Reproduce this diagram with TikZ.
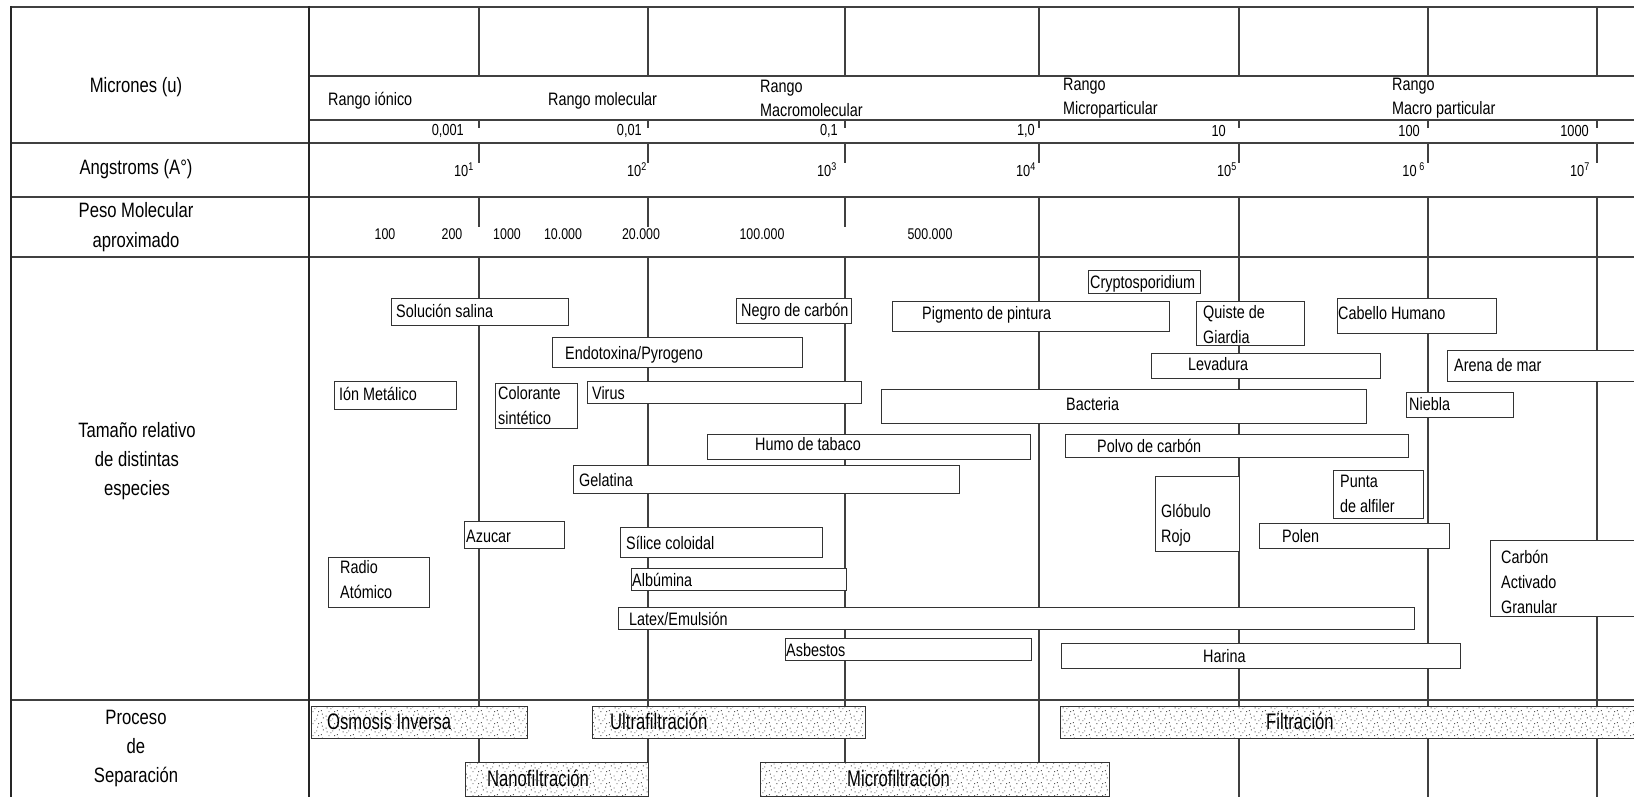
\documentclass[tikz,border=0pt]{standalone}
\usepackage{fontspec}
\setmainfont{Liberation Sans}[FakeStretch=0.8]
\newfontfamily\procfont{Liberation Sans}[FakeStretch=0.74]
\usetikzlibrary{patterns}

% stipple for the separation processes
\pgfdeclarepatternformonly{stipple}{\pgfqpoint{0pt}{0pt}}{\pgfqpoint{16pt}{12pt}}{\pgfqpoint{16pt}{12pt}}{%
  \pgfpathrectangle{\pgfqpoint{1pt}{2pt}}{\pgfqpoint{1pt}{1pt}}%
  \pgfpathrectangle{\pgfqpoint{6pt}{9pt}}{\pgfqpoint{1pt}{1pt}}%
  \pgfpathrectangle{\pgfqpoint{11pt}{4pt}}{\pgfqpoint{1pt}{1pt}}%
  \pgfpathrectangle{\pgfqpoint{14pt}{10pt}}{\pgfqpoint{1pt}{1pt}}%
  \pgfpathrectangle{\pgfqpoint{3pt}{7pt}}{\pgfqpoint{1pt}{1pt}}%
  \pgfpathrectangle{\pgfqpoint{9pt}{1pt}}{\pgfqpoint{1pt}{1pt}}%
  \pgfpathrectangle{\pgfqpoint{13pt}{6pt}}{\pgfqpoint{1pt}{1pt}}%
  \pgfpathrectangle{\pgfqpoint{7pt}{5pt}}{\pgfqpoint{1pt}{1pt}}%
  \pgfpathrectangle{\pgfqpoint{2pt}{11pt}}{\pgfqpoint{1pt}{1pt}}%
  \pgfpathrectangle{\pgfqpoint{15pt}{1pt}}{\pgfqpoint{1pt}{1pt}}%
  \pgfusepath{fill}}

\tikzset{
  rejilla/.style={line width=1.1pt, black!75},
  borde/.style={line width=1.8pt, black!85},
  caja/.style={draw=black!80, line width=1pt, fill=white},
  proc/.style={draw=black!80, line width=1pt, preaction={fill=white}, pattern=stipple, pattern color=black!65},
  etiq/.style={anchor=west, inner sep=0pt, font=\fontsize{18}{25}\selectfont, text height=15pt, text depth=2pt},
  etiqs/.style={anchor=west, inner sep=0pt, align=left, font=\fontsize{18}{25}\selectfont},
  titulo/.style={inner sep=0pt, align=center, font=\fontsize{20.8}{29}\selectfont},
  rango/.style={anchor=west, inner sep=0pt, align=left, font=\fontsize{18}{24}\selectfont},
  escala/.style={anchor=east, inner sep=0pt, font=\fontsize{16}{18}\selectfont},
  peso/.style={inner sep=0pt, font=\fontsize{15.5}{18}\selectfont},
  proceso/.style={anchor=west, inner sep=0pt, font=\procfont\fontsize{22.5}{26}\selectfont, text height=17pt, text depth=2pt}
}

\begin{document}
\begin{tikzpicture}[x=1pt,y=-1pt]
    % Fix the frame
    \useasboundingbox (0,0) rectangle (1634,797);
    \clip (0,0) rectangle (1634,797);
    % Draw the rows
    \draw[rejilla] (11,7) -- (1640,7);
    \draw[rejilla] (309,76) -- (1640,76);
    \draw[rejilla] (309,120) -- (1640,120);
    \draw[rejilla] (11,143) -- (1640,143);
    \draw[rejilla] (11,197) -- (1640,197);
    \draw[rejilla] (11,257) -- (1640,257);
    \draw[rejilla] (11,700) -- (1640,700);
    % Draw the columns and the ticks
    \draw[rejilla] (479,7) -- (479,76) (479,120) -- (479,128) (479,143) -- (479,163) (479,197) -- (479,227) (479,257) -- (479,800);
    \draw[rejilla] (648,7) -- (648,76) (648,120) -- (648,128) (648,143) -- (648,163) (648,197) -- (648,227) (648,257) -- (648,800);
    \draw[rejilla] (845,7) -- (845,76) (845,120) -- (845,128) (845,143) -- (845,163) (845,197) -- (845,227) (845,257) -- (845,800);
    \draw[rejilla] (1039,7) -- (1039,76) (1039,120) -- (1039,128) (1039,143) -- (1039,163) (1039,197) -- (1039,800);
    \draw[rejilla] (1239,7) -- (1239,76) (1239,120) -- (1239,128) (1239,143) -- (1239,163) (1239,197) -- (1239,800);
    \draw[rejilla] (1428,7) -- (1428,76) (1428,120) -- (1428,128) (1428,143) -- (1428,163) (1428,197) -- (1428,800);
    \draw[rejilla] (1597,7) -- (1597,76) (1597,120) -- (1597,128) (1597,143) -- (1597,163) (1597,197) -- (1597,800);
    % Draw the left borders
    \draw[borde] (11,6) -- (11,800);
    \draw[borde] (309,6) -- (309,800);

    % Row titles
    \node[titulo] (micrones) at (136,87) {Micrones (u)};
    \node[titulo] (angstroms) at (136,169) {Angstroms (A°)};
    \node[titulo] (pesomol) at (136,227) {Peso Molecular\\[1pt]aproximado};
    \node[titulo] (tamano) at (137,461) {Tamaño relativo\\de distintas\\especies};
    \node[titulo] (procsep) at (136,748) {Proceso\\de\\Separación};

    % Ranges
    \node[rango] (ionico) at (328,101) {Rango iónico};
    \node[rango] (molecular) at (548,101) {Rango molecular};
    \node[rango] (macromol) at (760,98) {Rango\\Macromolecular};
    \node[rango] (micropart) at (1063,98) {Rango\\Microparticular};
    \node[rango] (macropart) at (1392,98) {Rango\\Macro particular};

    % Micron scale
    \node[escala] (m1) at (464,131) {0,001};
    \node[escala] (m2) at (642,131) {0,01};
    \node[escala] (m3) at (838,131) {0,1};
    \node[escala] (m4) at (1035,131) {1,0};
    \node[escala] (m5) at (1226,131) {10};
    \node[escala] (m6) at (1420,131) {100};
    \node[escala] (m7) at (1589,131) {1000};
    % Angstrom scale
    \node[escala] (a1) at (474,170) {10\textsuperscript{1}};
    \node[escala] (a2) at (647,170) {10\textsuperscript{2}};
    \node[escala] (a3) at (837,170) {10\textsuperscript{3}};
    \node[escala] (a4) at (1036,170) {10\textsuperscript{4}};
    \node[escala] (a5) at (1237,170) {10\textsuperscript{5}};
    \node[escala] (a6) at (1425,170) {10\,\textsuperscript{6}};
    \node[escala] (a7) at (1590,170) {10\textsuperscript{7}};
    % Molecular weight
    \node[peso] (p1) at (385,234) {100};
    \node[peso] (p2) at (452,234) {200};
    \node[peso] (p3) at (507,234) {1000};
    \node[peso] (p4) at (563,234) {10.000};
    \node[peso] (p5) at (641,234) {20.000};
    \node[peso] (p6) at (762,234) {100.000};
    \node[peso] (p7) at (930,234) {500.000};

    % Draw the species
    \draw[caja] (1088,270) rectangle (1200,293);
    \node[etiq] (crypto) at (1090,281.5) {Cryptosporidium};
    \draw[caja] (391,298) rectangle (568,325);
    \node[etiq] (salina) at (396,311) {Solución salina};
    \draw[caja] (736,298) rectangle (851,323);
    \node[etiq] (negro) at (741,310) {Negro de carbón};
    \draw[caja] (892,301) rectangle (1169,331);
    \node[etiq] (pigmento) at (922,313) {Pigmento de pintura};
    \draw[caja] (1196,301) rectangle (1304,345);
    \node[etiqs] (quiste) at (1203,325) {Quiste de\\Giardia};
    \draw[caja] (1337,298) rectangle (1496,333);
    \node[etiq] (cabello) at (1338,313) {Cabello Humano};
    \draw[caja] (552,337) rectangle (802,367);
    \node[etiq] (endotox) at (565,353) {Endotoxina/Pyrogeno};
    \draw[caja] (1151,353) rectangle (1380,378);
    \node[etiq] (levadura) at (1188,364) {Levadura};
    \draw[caja] (1447,350) rectangle (1640,381);
    \node[etiq] (arena) at (1454,365) {Arena de mar};
    \draw[caja] (334,381) rectangle (456,409);
    \node[etiq] (ion) at (339,394) {Ión Metálico};
    \draw[caja] (495,383) rectangle (577,428);
    \node[etiqs] (colorante) at (498,406) {Colorante\\sintético};
    \draw[caja] (587,381) rectangle (861,403);
    \node[etiq] (virus) at (592,393) {Virus};
    \draw[caja] (881,389) rectangle (1366,423);
    \node[etiq] (bacteria) at (1066,404) {Bacteria};
    \draw[caja] (1406,392) rectangle (1513,417);
    \node[etiq] (niebla) at (1409,404) {Niebla};
    \draw[caja] (707,434) rectangle (1030,459);
    \node[etiq] (humo) at (755,444) {Humo de tabaco};
    \draw[caja] (1065,434) rectangle (1408,457);
    \node[etiq] (polvo) at (1097,446) {Polvo de carbón};
    \draw[caja] (573,465) rectangle (959,493);
    \node[etiq] (gelatina) at (579,480) {Gelatina};
    \draw[caja] (1333,470) rectangle (1423,518);
    \node[etiqs] (punta) at (1340,494) {Punta\\de alfiler};
    \draw[caja] (1155,476) rectangle (1239,551);
    \node[etiqs] (globulo) at (1161,525) {Glóbulo\\Rojo};
    \draw[caja] (464,521) rectangle (564,548);
    \node[etiq] (azucar) at (466,536) {Azucar};
    \draw[caja] (1259,523) rectangle (1449,548);
    \node[etiq] (polen) at (1282,536) {Polen};
    \draw[caja] (620,527) rectangle (822,557);
    \node[etiq] (silice) at (626,543) {Sílice coloidal};
    \draw[caja] (1490,540) rectangle (1640,616);
    \node[etiqs] (carbon) at (1501,582) {Carbón\\Activado\\Granular};
    \draw[caja] (328,557) rectangle (429,607);
    \node[etiqs] (radio) at (340,580) {Radio\\Atómico};
    \draw[caja] (631,568) rectangle (846,590);
    \node[etiq] (albumina) at (632,580) {Albúmina};
    \draw[caja] (618,607) rectangle (1414,629);
    \node[etiq] (latex) at (629,619) {Latex/Emulsión};
    \draw[caja] (785,638) rectangle (1031,660);
    \node[etiq] (asbestos) at (786,650) {Asbestos};
    \draw[caja] (1061,643) rectangle (1460,668);
    \node[etiq] (harina) at (1203,656) {Harina};

    % Draw the separation processes
    \draw[proc] (311,706) rectangle (527,738);
    \node[proceso] (osmosis) at (327,722) {Osmosis Inversa};
    \draw[proc] (592,706) rectangle (865,738);
    \node[proceso] (ultra) at (610,722) {Ultrafiltración};
    \draw[proc] (1060,706) rectangle (1640,738);
    \node[proceso] (filtracion) at (1266,722) {Filtración};
    \draw[proc] (465,762) rectangle (648,796);
    \node[proceso] (nano) at (487,779) {Nanofiltración};
    \draw[proc] (760,762) rectangle (1109,796);
    \node[proceso] (micro) at (847,779) {Microfiltración};
\end{tikzpicture}
\end{document}
